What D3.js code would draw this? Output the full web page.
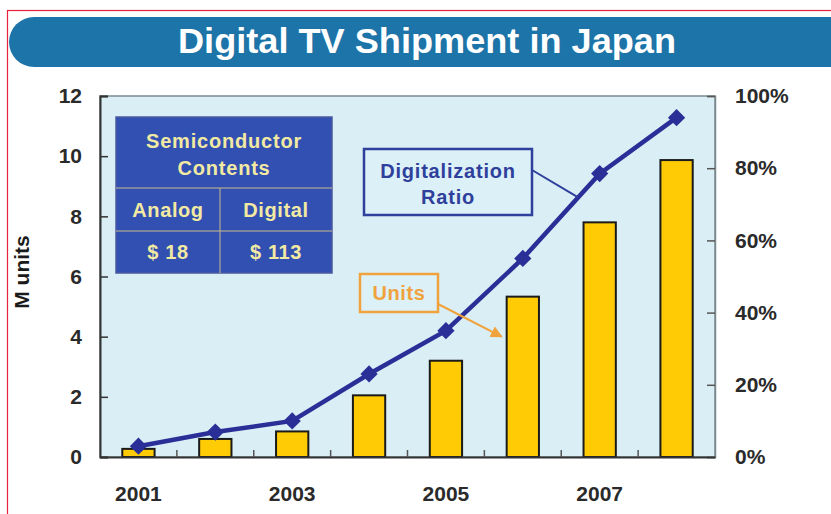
<!DOCTYPE html>
<html>
<head>
<meta charset="utf-8">
<script src="https://cdn.jsdelivr.net/npm/d3@7"></script>
<style>
  body { margin: 0; background: #fff; }
  svg { display: block; font-family: "Liberation Sans", Arial, sans-serif; font-weight: bold; }
</style>
</head>
<body>
<div id="graph"></div>
<script>
// data
var years = ["2001", "2002", "2003", "2004", "2005", "2006", "2007", "2008"];
var yearLabels = ["2001", "", "2003", "", "2005", "", "2007", ""];
var units = [0.27, 0.6, 0.85, 2.05, 3.2, 5.33, 7.8, 9.87];        // M units
var ratio = [0.03, 0.069, 0.10, 0.23, 0.35, 0.55, 0.785, 0.94];    // digitalization ratio
var leftTicks = [0, 2, 4, 6, 8, 10, 12];
var rightTicks = [0, 0.2, 0.4, 0.6, 0.8, 1];
var tableHead = ["Semiconductor", "Contents"];
var tableCols = ["Analog", "Digital"];
var tableVals = ["$ 18", "$ 113"];

var W = 831, H = 514;
var margin = { top: 96, right: 116, bottom: 57, left: 100 },
    width = W - margin.left - margin.right,
    height = H - margin.top - margin.bottom;

var svg = d3.select("#graph").append("svg")
    .attr("width", W)
    .attr("height", H);

// red frame + title banner
svg.append("rect")
    .attr("x", 7.5).attr("y", 10.5)
    .attr("width", 840).attr("height", 520)
    .attr("fill", "none").attr("stroke", "#e8203c").attr("stroke-width", 1.2);

svg.append("rect")
    .attr("x", 9).attr("y", 17)
    .attr("width", 860).attr("height", 50)
    .attr("rx", 25)
    .attr("fill", "#1d74a8");

svg.append("text")
    .attr("x", 427).attr("y", 53)
    .attr("text-anchor", "middle")
    .attr("font-size", 35)
    .attr("fill", "#fff")
    .attr("textLength", 498)
    .attr("lengthAdjust", "spacingAndGlyphs")
    .text("Digital TV Shipment in Japan");

var g = svg.append("g")
    .attr("transform", "translate(" + margin.left + "," + margin.top + ")");

var x = d3.scaleBand()
    .domain(years)
    .range([0, width])
    .paddingInner(0.58)
    .paddingOuter(0.29);

var y = d3.scaleLinear().domain([0, 12]).range([height, 0]);
var y2 = d3.scaleLinear().domain([0, 1]).range([height, 0]);

// plot background
g.append("rect")
    .attr("width", width).attr("height", height)
    .attr("fill", "#d9eef5")
    .attr("stroke", "#7c8a90").attr("stroke-width", 1.5);

// bars
g.selectAll(".bar")
    .data(units)
    .enter().append("rect")
    .attr("class", "bar")
    .attr("x", function(d, i) { return x(years[i]); })
    .attr("y", function(d) { return y(d); })
    .attr("width", x.bandwidth())
    .attr("height", function(d) { return height - y(d); })
    .attr("fill", "#ffcb05")
    .attr("stroke", "#1a1a1a")
    .attr("stroke-width", 2);

// left axis, ticks inside
var yAxis = g.append("g")
    .call(d3.axisLeft(y).tickValues(leftTicks).tickSize(-8).tickPadding(18));
yAxis.select(".domain").attr("stroke", "#333").attr("stroke-width", 2);
yAxis.selectAll(".tick line").attr("stroke", "#333").attr("stroke-width", 1.5);
yAxis.selectAll("text").attr("font-size", 21).attr("fill", "#2a2a2a")
    .attr("font-family", "Liberation Sans, Arial, sans-serif").attr("font-weight", "bold");

// right axis
var y2Axis = g.append("g")
    .attr("transform", "translate(" + width + ",0)")
    .call(d3.axisRight(y2).tickValues(rightTicks).tickFormat(d3.format(".0%")).tickSize(-8).tickPadding(20));
y2Axis.select(".domain").attr("stroke", "#7c8a90").attr("stroke-width", 1.5);
y2Axis.selectAll(".tick line").attr("stroke", "#555").attr("stroke-width", 1.5);
y2Axis.selectAll("text").attr("font-size", 21).attr("fill", "#2a2a2a")
    .attr("font-family", "Liberation Sans, Arial, sans-serif").attr("font-weight", "bold");

// bottom axis: labels under bars, small ticks between categories
var xAxis = g.append("g")
    .attr("transform", "translate(0," + height + ")")
    .call(d3.axisBottom(x).tickSize(0).tickPadding(29)
        .tickFormat(function(d, i) { return yearLabels[i]; }));
xAxis.select(".domain").attr("stroke", "#333").attr("stroke-width", 2);
xAxis.selectAll("text").attr("font-size", 21).attr("fill", "#2a2a2a")
    .attr("font-family", "Liberation Sans, Arial, sans-serif").attr("font-weight", "bold");

var step = x.step();
xAxis.selectAll(".sep")
    .data(years.slice(1))
    .enter().append("line")
    .attr("class", "sep")
    .attr("x1", function(d) { return x(d) + x.bandwidth() / 2 - step / 2; })
    .attr("x2", function(d) { return x(d) + x.bandwidth() / 2 - step / 2; })
    .attr("y1", 0).attr("y2", -7)
    .attr("stroke", "#555").attr("stroke-width", 1.5);

// y title
svg.append("text")
    .attr("transform", "translate(29,272) rotate(-90)")
    .attr("text-anchor", "middle")
    .attr("font-size", 21)
    .attr("fill", "#1a1a1a")
    .text("M units");

// ratio line
var cx = function(i) { return x(years[i]) + x.bandwidth() / 2; };
var line = d3.line()
    .x(function(d, i) { return cx(i); })
    .y(function(d) { return y2(d); });

g.append("path")
    .datum(ratio)
    .attr("d", line)
    .attr("fill", "none")
    .attr("stroke", "#2a2f98")
    .attr("stroke-width", 4.5);

g.selectAll(".mark")
    .data(ratio)
    .enter().append("path")
    .attr("class", "mark")
    .attr("d", d3.symbol().type(d3.symbolDiamond2).size(190))
    .attr("transform", function(d, i) { return "translate(" + cx(i) + "," + y2(d) + ")"; })
    .attr("fill", "#2a2f98");

// semiconductor contents table
var tb = { x: 116, y: 117, w: 216, h1: 71, h2: 43, h3: 42 };
var tg = svg.append("g");
tg.append("rect")
    .attr("x", tb.x).attr("y", tb.y)
    .attr("width", tb.w).attr("height", tb.h1 + tb.h2 + tb.h3)
    .attr("fill", "#3150b2").attr("stroke", "#4a5aa0").attr("stroke-width", 1.5);
var lineCol = "#c9b98a";
tg.append("line").attr("x1", tb.x).attr("x2", tb.x + tb.w)
    .attr("y1", tb.y + tb.h1).attr("y2", tb.y + tb.h1).attr("stroke", lineCol);
tg.append("line").attr("x1", tb.x).attr("x2", tb.x + tb.w)
    .attr("y1", tb.y + tb.h1 + tb.h2).attr("y2", tb.y + tb.h1 + tb.h2).attr("stroke", lineCol);
tg.append("line").attr("x1", tb.x + 104).attr("x2", tb.x + 104)
    .attr("y1", tb.y + tb.h1).attr("y2", tb.y + tb.h1 + tb.h2 + tb.h3).attr("stroke", lineCol);

tg.selectAll(".head")
    .data(tableHead)
    .enter().append("text")
    .attr("x", tb.x + tb.w / 2)
    .attr("y", function(d, i) { return tb.y + 31 + i * 27; })
    .attr("text-anchor", "middle")
    .attr("font-size", 20)
    .attr("letter-spacing", 0.8)
    .attr("fill", "#f2eaa2")
    .text(function(d) { return d; });
var colX = [tb.x + 52, tb.x + 160];
tg.selectAll(".col")
    .data(tableCols)
    .enter().append("text")
    .attr("x", function(d, i) { return colX[i]; })
    .attr("y", tb.y + tb.h1 + 29)
    .attr("text-anchor", "middle")
    .attr("font-size", 20)
    .attr("letter-spacing", 0.6)
    .attr("fill", "#f2eaa2")
    .text(function(d) { return d; });
tg.selectAll(".val")
    .data(tableVals)
    .enter().append("text")
    .attr("x", function(d, i) { return colX[i]; })
    .attr("y", tb.y + tb.h1 + tb.h2 + 28)
    .attr("text-anchor", "middle")
    .attr("font-size", 20)
    .attr("letter-spacing", 0.6)
    .attr("fill", "#f2eaa2")
    .text(function(d) { return d; });

// "Digitalization Ratio" callout
var blue = "#2e3f9c";
svg.append("rect")
    .attr("x", 364).attr("y", 149).attr("width", 168).attr("height", 66)
    .attr("fill", "#dcf0f7").attr("stroke", blue).attr("stroke-width", 2.5);
svg.selectAll(".dr")
    .data(["Digitalization", "Ratio"])
    .enter().append("text")
    .attr("x", 448)
    .attr("y", function(d, i) { return 178 + i * 26; })
    .attr("text-anchor", "middle")
    .attr("font-size", 20)
    .attr("letter-spacing", 0.8)
    .attr("fill", blue)
    .text(function(d) { return d; });
// leader to a point on the line between 2006 and 2007
var t = 0.72;
var lx = margin.left + cx(5) + (cx(6) - cx(5)) * t;
var ly = margin.top + y2(ratio[5]) + (y2(ratio[6]) - y2(ratio[5])) * t;
svg.append("line")
    .attr("x1", 532).attr("y1", 170).attr("x2", lx).attr("y2", ly)
    .attr("stroke", blue).attr("stroke-width", 2);

// "Units" callout with arrow to the 2006 bar
var orange = "#f0a23c";
svg.append("defs").append("marker")
    .attr("id", "arr")
    .attr("viewBox", "0 0 10 10")
    .attr("refX", 9).attr("refY", 5)
    .attr("markerWidth", 6).attr("markerHeight", 6)
    .attr("orient", "auto")
    .append("path").attr("d", "M0,0L10,5L0,10z").attr("fill", orange);
svg.append("rect")
    .attr("x", 360).attr("y", 274).attr("width", 78).attr("height", 38)
    .attr("fill", "#dcf0f7").attr("stroke", orange).attr("stroke-width", 2.5);
svg.append("text")
    .attr("x", 399).attr("y", 300)
    .attr("text-anchor", "middle")
    .attr("font-size", 20)
    .attr("letter-spacing", 0.6)
    .attr("fill", orange)
    .text("Units");
svg.append("line")
    .attr("x1", 438).attr("y1", 304)
    .attr("x2", margin.left + x("2006") - 5).attr("y2", margin.top + y(4))
    .attr("stroke", orange).attr("stroke-width", 2)
    .attr("marker-end", "url(#arr)");
</script>
</body>
</html>
